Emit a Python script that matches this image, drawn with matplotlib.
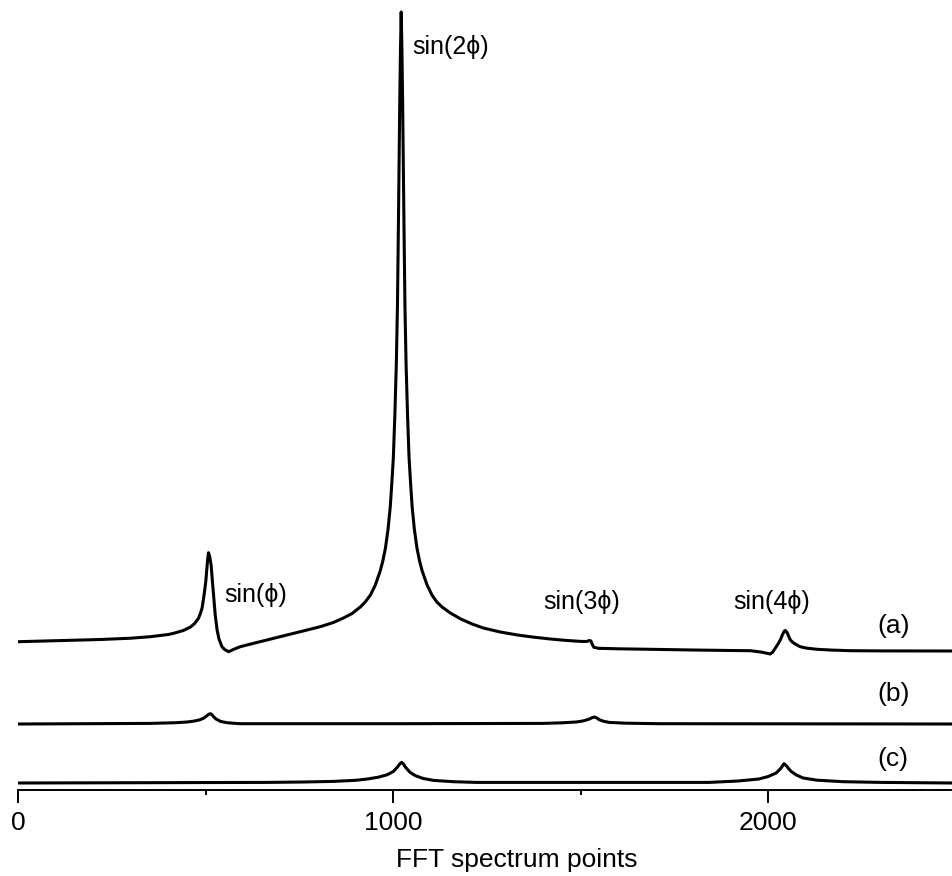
import matplotlib
matplotlib.use("Agg")
from matplotlib import pyplot as plt
from matplotlib.ticker import MultipleLocator

# FFT spectrum traces (x in spectrum points, y in arbitrary units
# relative to each trace's own baseline)
a_x = [0, 100, 219, 300, 352, 400, 413, 440, 459, 470, 480, 485, 490, 496, 500, 503,
       505, 507, 510, 514, 517, 521, 525, 530, 535, 543, 550, 561, 575, 592, 620, 663,
       700, 752, 805, 840, 867, 890, 912, 925, 939, 952, 965, 972, 979, 986, 992, 996,
       1000, 1004, 1008, 1011, 1013, 1015, 1017, 1019, 1021, 1023, 1025, 1027, 1029,
       1031, 1034, 1038, 1042, 1046, 1050, 1056, 1063, 1070, 1077, 1090, 1103, 1116,
       1130, 1152, 1180, 1210, 1240, 1285, 1331, 1375, 1419, 1460, 1500, 1515, 1523,
       1527, 1530, 1535, 1547, 1600, 1686, 1800, 1900, 1952, 1980, 1997, 2005, 2012,
       2019, 2026, 2032, 2037, 2040, 2043, 2045, 2047, 2051, 2055, 2059, 2065, 2072,
       2085, 2100, 2130, 2170, 2219, 2300, 2490]
a_y = [9.3, 10.3, 11.5, 12.8, 14.3, 16.5, 17.6, 20.5, 24, 27.5, 32.5, 37, 43, 58, 70, 84,
       92, 98.3, 95, 86, 72, 54, 36, 21, 12, 4.3, 1.5, -0.7, 1.8, 4.3, 7, 11,
       14.5, 19.3, 24.3, 28.5, 33, 37.5, 44, 49, 56, 66, 80, 90, 103, 122, 145, 168,
       193, 235, 287, 345, 408, 475, 544, 600, 639, 600, 544, 475, 408,
       345, 287, 235, 193, 168, 145, 122, 103, 90, 80, 66, 56, 49,
       44, 38, 32, 27, 23, 19, 16, 13.8, 12, 10.6, 9.6, 9.5, 10.5,
       10, 7, 3.7, 2.7, 2.2, 1.7, 1, 0.5, 0.3, -1, -2.3, -3, -1,
       3, 7, 11, 15.5, 18, 20, 20.5, 20, 18, 14, 11, 8.7, 7,
       4.3, 3, 1.7, 0.9, 0.3, 0.1, 0]

b_x = [0, 352, 420, 450, 470, 485, 495, 503, 508, 512, 516, 520, 527, 539, 555, 575,
       592, 1019, 1400, 1450, 1488, 1505, 1515, 1523, 1530, 1537, 1543, 1549, 1560,
       1576, 1620, 1709, 2490]
b_y = [0, 0.6, 1.3, 2, 3, 4.3, 6, 8.3, 9.8, 10.3, 9.5, 7.6, 5, 2.6, 1.4, 0.7,
       0.3, 0.3, 0.6, 1.2, 2, 3, 4, 5, 6.3, 7, 6, 4.3, 2.8,
       1.6, 0.8, 0.3, 0]

c_x = [0, 664, 760, 840, 900, 931, 960, 984, 1000, 1011, 1017, 1022, 1027, 1032, 1045,
       1059, 1080, 1107, 1160, 1221, 1842, 1920, 1975, 2000, 2021, 2033, 2042, 2049,
       2055, 2061, 2075, 2093, 2130, 2200, 2300, 2490]
c_y = [0, 0.6, 1, 1.6, 2.7, 4, 5.8, 8.3, 11.5, 16, 19, 20.6, 19, 16, 10.5,
       7.3, 4.5, 2.6, 1.3, 0.6, 0.6, 2, 4, 6.5, 10, 14.5, 19.3, 17,
       14, 11.6, 8, 5, 2.8, 1.3, 0.6, 0]

trace_names = ["(a)", "(b)", "(c)"]
peak_labels = ["sin(\u03d5)", "sin(2\u03d5)", "sin(3\u03d5)", "sin(4\u03d5)"]

plt.rcParams['font.family'] = ['Liberation Sans', 'DejaVu Sans']

fig = plt.figure(figsize=(9.52, 8.76), dpi=100)
ax = fig.add_axes([18 / 952, 86 / 876, 934 / 952, 780 / 876])

offsets = [139, 66, 7]
for xs, ys, off in zip([a_x, b_x, c_x], [a_y, b_y, c_y], offsets):
    ax.plot(xs, [v + off for v in ys], color='black', lw=2.2,
            solid_joinstyle='round', solid_capstyle='round')

ax.set_xlim(-1, 2490)
ax.set_ylim(0, 780)

for s in ['left', 'right', 'top']:
    ax.spines[s].set_visible(False)
ax.spines['bottom'].set_linewidth(1.4)
ax.set_yticks([])
ax.xaxis.set_major_locator(MultipleLocator(1000))
ax.xaxis.set_minor_locator(MultipleLocator(500))
ax.tick_params(axis='x', which='major', length=9, width=1.4, labelsize=19, pad=6)
ax.tick_params(axis='x', which='minor', length=3.5, width=1.4)

ax.set_xlabel("FFT spectrum points", fontsize=19, va='top')
ax.xaxis.set_label_coords(0.534, -0.074)

# peak annotations
label_pos = [(548, 195), (1051, 743), (1400, 188), (1906, 188)]
for txt, (x, y) in zip(peak_labels, label_pos):
    ax.text(x, y, txt, fontsize=18, ha='left', va='center')

for txt, y in zip(trace_names, [164, 96, 31]):
    ax.text(2290, y, txt, fontsize=19, ha='left', va='center')

fig.savefig("out.png", dpi=100)
